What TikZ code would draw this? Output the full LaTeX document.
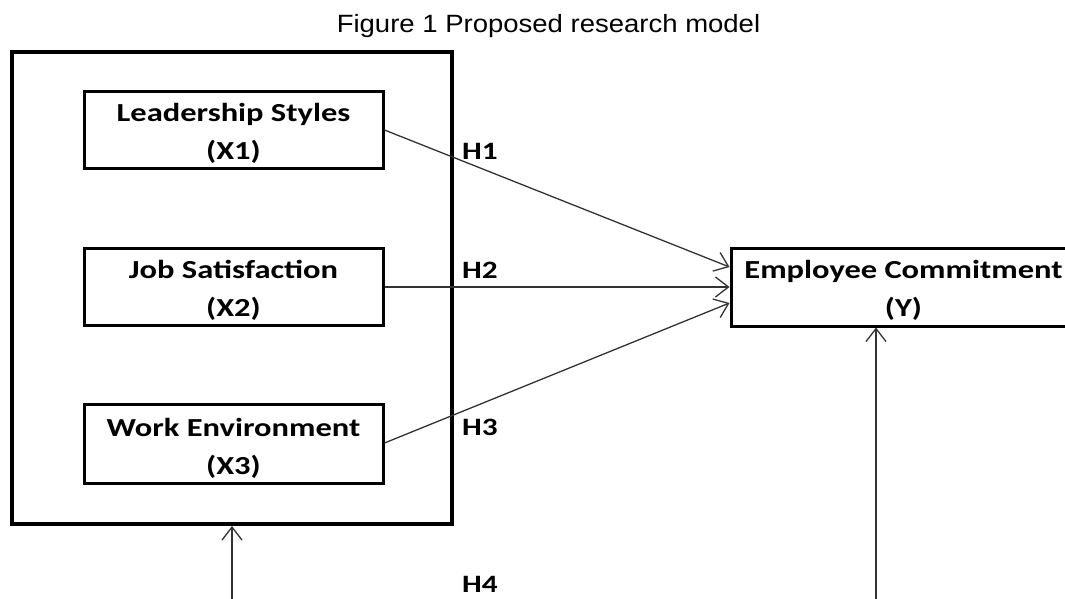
\documentclass[tikz,border=0pt]{standalone}
\usepackage{fontspec}
\usetikzlibrary{arrows.meta,calc}
\newfontfamily\titlefont[FakeStretch=1.1]{Liberation Sans}
\newfontfamily\boxfont[FakeStretch=1.25]{Carlito}
\begin{document}
\begin{tikzpicture}[x=1pt,y=-1pt,
  frame/.style={draw=black,line width=4pt,inner sep=0pt},
  varbox/.style={draw=black,line width=3pt,inner sep=0pt,minimum height=77pt},
  boxtext/.style={inner sep=0pt,anchor=base,font=\boxfont\bfseries\fontsize{26}{38}\selectfont},
  hyp/.style={inner sep=0pt,anchor=base west,font=\boxfont\bfseries\fontsize{25}{30}\selectfont},
  link/.style={draw=black!80,line width=1.3pt,-{Straight Barb[length=13pt,width=20pt]}}]
\useasboundingbox (0,0) rectangle (1065,599);
\clip (0,0) rectangle (1065,599);
\fill[white] (0,0) rectangle (1065,599);
% title
\node[inner sep=0pt,anchor=base,font=\titlefont\fontsize{25}{30}\selectfont] (title) at (548.5,33) {Figure 1 Proposed research model};
% outer frame
\node[frame,minimum width=440pt,minimum height=472pt] (outer) at (232,288) {};
% variable boxes
\node[varbox,minimum width=299pt] (b1) at (233.5,130) {};
\node[varbox,minimum width=299pt] (b2) at (233.5,286.5) {};
\node[varbox,minimum width=299pt,minimum height=79pt] (b3) at (233.5,443.5) {};
\node[varbox,minimum width=345pt,minimum height=78pt] (y) at (903.5,287) {};
% texts
\node[boxtext] (t1) at (233.5,122) {\begin{tabular}[t]{@{}c@{}}Leadership Styles\\(X1)\end{tabular}};
\node[boxtext] (t2) at (233.5,278) {\begin{tabular}[t]{@{}c@{}}Job Satisfaction\\(X2)\end{tabular}};
\node[boxtext] (t3) at (233.5,436) {\begin{tabular}[t]{@{}c@{}}Work Environment\\(X3)\end{tabular}};
\node[boxtext] (ty) at (903.5,278) {\begin{tabular}[t]{@{}c@{}}Employee Commitment\\(Y)\end{tabular}};
% connectors
\coordinate (e1) at ($(y.west)+(0,-20)$);
\coordinate (e3) at ($(y.west)+(0,16)$);
\draw[link] (b1.east) -- (e1);
\draw[link] (b2.east |- y.west) -- (y.west);
\draw[link] ($(b3.east)+(0,-0.5)$) -- (e3);
\coordinate (s1) at (232,599);
\coordinate (s2) at (876,599);
\draw[link] (s1) -- (outer.south);
\draw[link] (s2) -- (s2 |- y.south);
% hypothesis labels
\node[hyp] (h1) at (462,160) {H1};
\node[hyp] (h2) at (462,278) {H2};
\node[hyp] (h3) at (462,435) {H3};
\node[hyp] (h4) at (462,592) {H4};
\end{tikzpicture}
\end{document}
